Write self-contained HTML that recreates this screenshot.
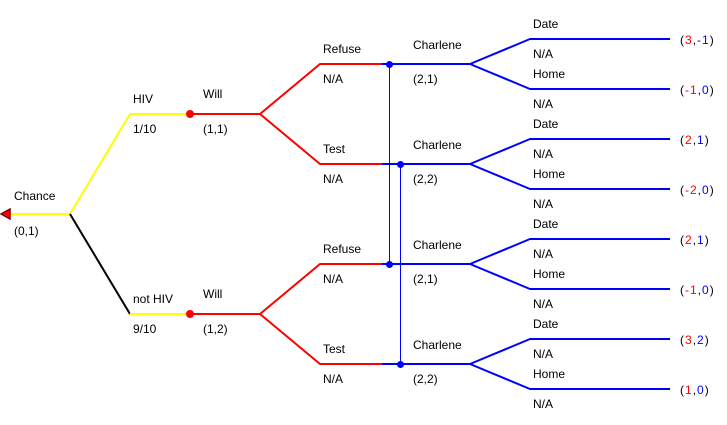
<!DOCTYPE html>
<html><head><meta charset="utf-8"><style>
html,body{margin:0;padding:0;background:#fff;}
svg{display:block;}
text{font-family:"Liberation Sans",Arial,sans-serif;font-size:12px;fill:#000;}
</style></head><body>
<svg width="727" height="425" viewBox="0 0 727 425" xmlns="http://www.w3.org/2000/svg">
<g fill="none" stroke-width="2" stroke-linejoin="round">
<line x1="2" y1="214" x2="70" y2="214" stroke="#ffff00"/>
<polyline points="70,214 130,114 190,114" stroke="#ffff00"/>
<polyline points="70,214 130,314" stroke="#000"/>
<polyline points="130,314 190,314" stroke="#ffff00"/>
<g stroke="#ff0000">
<polyline points="190,114 260,114 320,64 382,64"/>
<polyline points="260,114 320,164 382,164"/>
<polyline points="190,314 260,314 320,264 382,264"/>
<polyline points="260,314 320,364 382,364"/>
</g>
<g stroke="#0000ff">
<line x1="382" y1="64" x2="470" y2="64"/>
<line x1="382" y1="164" x2="470" y2="164"/>
<line x1="382" y1="264" x2="470" y2="264"/>
<line x1="382" y1="364" x2="470" y2="364"/>
<polyline points="470,64 530,39 670,39"/><polyline points="470,64 530,89 670,89"/>
<polyline points="470,164 530,139 670,139"/><polyline points="470,164 530,189 670,189"/>
<polyline points="470,264 530,239 670,239"/><polyline points="470,264 530,289 670,289"/>
<polyline points="470,364 530,339 670,339"/><polyline points="470,364 530,389 670,389"/>
</g>
<line x1="389.5" y1="64" x2="389.5" y2="264" stroke="#0000ff" stroke-width="1"/>
<line x1="400.5" y1="164" x2="400.5" y2="364" stroke="#0000ff" stroke-width="1"/>
</g>
<polygon points="1,214 10,209 10,219" fill="#ff0000" stroke="#800000" stroke-width="1.5"/>
<circle cx="190" cy="114" r="4" fill="#ff0000"/>
<circle cx="190" cy="314" r="4" fill="#ff0000"/>
<g fill="#0000ff">
<circle cx="389.5" cy="64.5" r="3.5"/><circle cx="400.5" cy="164.5" r="3.5"/>
<circle cx="389.5" cy="264.5" r="3.5"/><circle cx="400.5" cy="364.5" r="3.5"/>
</g>
<text x="14" y="200">Chance</text><text x="14" y="235">(0,1)</text>
<text x="133" y="103">HIV</text><text x="133" y="133">1/10</text>
<text x="133" y="303">not HIV</text><text x="133" y="333">9/10</text>
<text x="203" y="98">Will</text><text x="203" y="133">(1,1)</text>
<text x="203" y="298">Will</text><text x="203" y="333">(1,2)</text>
<text x="323" y="53">Refuse</text><text x="323" y="83">N/A</text>
<text x="323" y="153">Test</text><text x="323" y="183">N/A</text>
<text x="323" y="253">Refuse</text><text x="323" y="283">N/A</text>
<text x="323" y="353">Test</text><text x="323" y="383">N/A</text>
<text x="413" y="49">Charlene</text><text x="413" y="83">(2,1)</text>
<text x="413" y="149">Charlene</text><text x="413" y="183">(2,2)</text>
<text x="413" y="249">Charlene</text><text x="413" y="283">(2,1)</text>
<text x="413" y="349">Charlene</text><text x="413" y="383">(2,2)</text>
<text x="533" y="28">Date</text><text x="533" y="58">N/A</text><text x="533" y="78">Home</text><text x="533" y="108">N/A</text>
<text x="533" y="128">Date</text><text x="533" y="158">N/A</text><text x="533" y="178">Home</text><text x="533" y="208">N/A</text>
<text x="533" y="228">Date</text><text x="533" y="258">N/A</text><text x="533" y="278">Home</text><text x="533" y="308">N/A</text>
<text x="533" y="328">Date</text><text x="533" y="358">N/A</text><text x="533" y="378">Home</text><text x="533" y="408">N/A</text>
<g style="font-size:14px;letter-spacing:1px">
<text x="680" y="44">(<tspan fill="#ff0000">3</tspan>,<tspan fill="#0000ff">-1</tspan>)</text>
<text x="680" y="94">(<tspan fill="#ff0000">-1</tspan>,<tspan fill="#0000ff">0</tspan>)</text>
<text x="680" y="144">(<tspan fill="#ff0000">2</tspan>,<tspan fill="#0000ff">1</tspan>)</text>
<text x="680" y="194">(<tspan fill="#ff0000">-2</tspan>,<tspan fill="#0000ff">0</tspan>)</text>
<text x="680" y="244">(<tspan fill="#ff0000">2</tspan>,<tspan fill="#0000ff">1</tspan>)</text>
<text x="680" y="294">(<tspan fill="#ff0000">-1</tspan>,<tspan fill="#0000ff">0</tspan>)</text>
<text x="680" y="344">(<tspan fill="#ff0000">3</tspan>,<tspan fill="#0000ff">2</tspan>)</text>
<text x="680" y="394">(<tspan fill="#ff0000">1</tspan>,<tspan fill="#0000ff">0</tspan>)</text>
</g>
</svg>
</body></html>
